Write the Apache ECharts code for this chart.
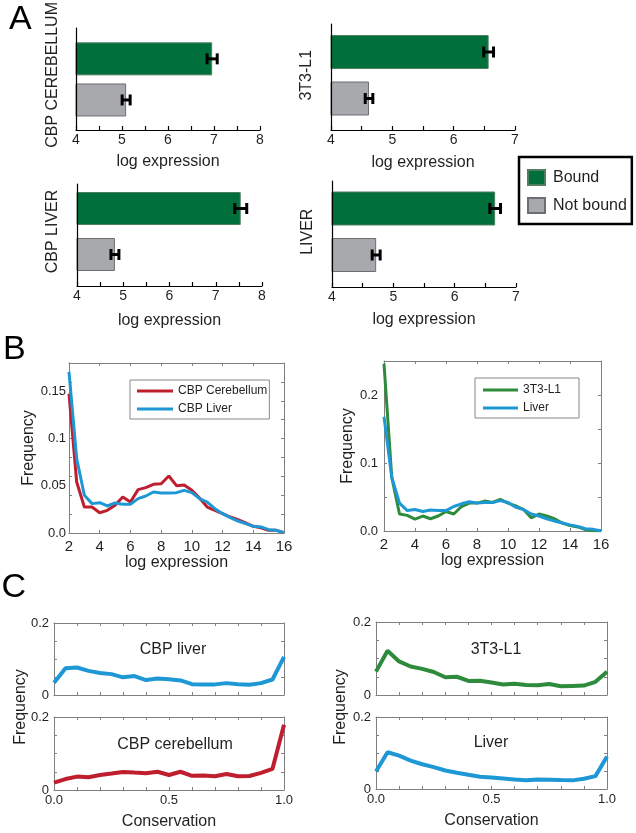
<!DOCTYPE html>
<html>
<head>
<meta charset="utf-8">
<script src="https://cdn.jsdelivr.net/npm/echarts@6/dist/echarts.min.js"></script>
<style>html,body{margin:0;padding:0;background:#fff;}#c{width:636px;height:833px;}</style>
</head>
<body>
<div id="c"></div>
<script>
// ---------- DATA ----------
const catsA = ['Bound', 'Not bound'];
const xTicksA8 = [4, 5, 6, 7, 8];
const xTicksA7 = [4, 5, 6, 7];
const valsCerebellum = [6.96, 5.09];
const errCerebellum = [0.11, 0.087];
const vals3T3 = [6.57, 4.62];
const err3T3 = [0.08, 0.062];
const valsCbpLiver = [7.54, 4.82];
const errCbpLiver = [0.13, 0.086];
const valsLiver = [6.66, 4.72];
const errLiver = [0.087, 0.065];

const xB = [2, 2.5, 3, 3.5, 4, 4.5, 5, 5.5, 6, 6.5, 7, 7.5, 8, 8.5, 9, 9.5, 10, 10.5, 11, 11.5, 12, 12.5, 13, 13.5, 14, 14.5, 15, 15.5, 16];
const bCbpCereb = [0.1475, 0.054, 0.0275, 0.0275, 0.0215, 0.024, 0.0293, 0.0381, 0.0328, 0.0459, 0.048, 0.0515, 0.0522, 0.0604, 0.0501, 0.0508, 0.0452, 0.0371, 0.0275, 0.024, 0.0205, 0.0169, 0.0141, 0.0106, 0.0071, 0.0056, 0.0028, 0.0028, 0.0004];
const bCbpLiver = [0.1705, 0.0787, 0.0399, 0.0311, 0.0321, 0.0286, 0.0318, 0.0304, 0.0304, 0.0364, 0.0392, 0.0434, 0.0424, 0.0424, 0.0427, 0.0452, 0.0427, 0.0364, 0.0328, 0.0258, 0.0205, 0.0162, 0.0127, 0.0099, 0.0071, 0.0064, 0.0035, 0.0028, 0.0004];
const b3T3 = [0.246, 0.079, 0.025, 0.023, 0.0175, 0.022, 0.018, 0.022, 0.0286, 0.025, 0.036, 0.041, 0.041, 0.044, 0.042, 0.0466, 0.041, 0.037, 0.0316, 0.0194, 0.025, 0.022, 0.018, 0.0117, 0.008, 0.006, 0.002, 0.0005, 0.0005];
const bLiver = [0.168, 0.079, 0.041, 0.030, 0.0316, 0.0286, 0.031, 0.030, 0.030, 0.036, 0.040, 0.043, 0.041, 0.042, 0.042, 0.0447, 0.042, 0.035, 0.0316, 0.025, 0.022, 0.018, 0.0146, 0.0117, 0.009, 0.0068, 0.0034, 0.0024, 0.0005];
const xTicksB = [2, 4, 6, 8, 10, 12, 14, 16];
const yTickValsBL = [0, 0.05, 0.1, 0.15];
const yTickTextBL = ['0.0', '0.05', '0.1', '0.15'];
const yTickValsBR = [0, 0.1, 0.2];
const yTickTextBR = ['0.0', '0.1', '0.2'];

const xC = [0, 0.05, 0.1, 0.15, 0.2, 0.25, 0.3, 0.35, 0.4, 0.45, 0.5, 0.55, 0.6, 0.65, 0.7, 0.75, 0.8, 0.85, 0.9, 0.95, 1.0];
const consCbpLiver = [0.034, 0.074, 0.0765, 0.067, 0.061, 0.058, 0.049, 0.0525, 0.0415, 0.046, 0.044, 0.0405, 0.030, 0.0295, 0.0295, 0.033, 0.030, 0.0286, 0.033, 0.043, 0.106];
const consCbpCereb = [0.020, 0.030, 0.0367, 0.035, 0.041, 0.045, 0.0495, 0.0477, 0.046, 0.050, 0.041, 0.050, 0.039, 0.040, 0.0376, 0.044, 0.0376, 0.0385, 0.047, 0.058, 0.179];
const cons3T3 = [0.064, 0.121, 0.092, 0.078, 0.0716, 0.063, 0.0486, 0.050, 0.0385, 0.039, 0.034, 0.029, 0.031, 0.0275, 0.0266, 0.030, 0.0239, 0.0248, 0.0257, 0.036, 0.064];
const consLiver = [0.0486, 0.102, 0.0927, 0.079, 0.0688, 0.0606, 0.0514, 0.045, 0.0394, 0.034, 0.032, 0.0294, 0.0266, 0.024, 0.0266, 0.0257, 0.0248, 0.024, 0.0284, 0.0358, 0.090];
const xTickValsC = [0, 0.5, 1];
const xTickTextC = ['0.0', '0.5', '1.0'];
const yTickValsC = [0, 0.2];
const yTickTextC = ['0', '0.2'];

// ---------- STYLE ----------
const FONT = "'Liberation Sans', Arial, sans-serif";
const TXT = '#231f20';
const GREEN_BAR = '#006f3c', GREEN_BAR_B = '#4f7e60';
const GRAY_BAR = '#a7a9ac', GRAY_BAR_B = '#6d6e71';
const RED = '#be1e2d', BLUE = '#1d98d5', GREEN = '#2e8b3c';
const BOX = '#808080';

const grids = [], xAxes = [], yAxes = [], series = [];
const addGrid = g => (grids.push(Object.assign({containLabel: false}, g)), grids.length - 1);
const addX = a => (xAxes.push(a), xAxes.length - 1);
const addY = a => (yAxes.push(a), yAxes.length - 1);
const lookup = (vals, texts) => v => { const i = vals.findIndex(t => Math.abs(t - v) < 1e-9); return i >= 0 ? texts[i] : ''; };

// ---------- PANEL A ----------
function panelA(f, b, xmax, xticks, yname, vals, errs) {
  const gf = addGrid({left: f.left, top: f.top, width: f.width, height: f.height});
  const gb = addGrid({left: f.left, top: b.top, width: f.width, height: b.height});
  addX({gridIndex: gf, type: 'value', min: 4, max: xmax, interval: 0.5, z: 5,
    axisLine: {onZero: false, lineStyle: {color: '#000', width: 1.2}},
    axisTick: {inside: true, length: 4, lineStyle: {color: '#000', width: 1.2}},
    splitLine: {show: false},
    axisLabel: {fontSize: 14, color: TXT, margin: 3, formatter: v => xticks.includes(v) ? String(v) : ''},
    name: 'log expression', nameLocation: 'middle', nameGap: f.nameGap,
    nameTextStyle: {fontSize: 16, color: TXT}});
  addY({gridIndex: gf, type: 'value', min: 0, max: 1, z: 5,
    axisLine: {show: true, onZero: false, lineStyle: {color: '#000', width: 1.2}},
    axisTick: {show: false}, axisLabel: {show: false}, splitLine: {show: false}});
  const xb = addX({gridIndex: gb, type: 'value', min: 4, max: xmax, show: false, splitLine: {show: false}});
  const yb = addY({gridIndex: gb, type: 'category', inverse: true, data: catsA,
    axisLine: {show: false, onZero: false}, axisTick: {show: false}, axisLabel: {show: false},
    name: yname, nameLocation: 'middle', nameRotate: 90, nameGap: f.yGap,
    nameTextStyle: {fontSize: 16, color: TXT, padding: f.yPad || 0}});
  series.push({type: 'bar', name: 'Bound', xAxisIndex: xb, yAxisIndex: yb, data: [vals[0], '-'],
    barWidth: b.bw, barGap: '-100%', itemStyle: {color: GREEN_BAR, borderColor: GREEN_BAR_B, borderWidth: 1}, animation: false});
  series.push({type: 'bar', name: 'Not bound', xAxisIndex: xb, yAxisIndex: yb, data: ['-', vals[1]],
    barWidth: b.bw, barGap: '-100%', itemStyle: {color: GRAY_BAR, borderColor: GRAY_BAR_B, borderWidth: 1}, animation: false});
  series.push({type: 'custom', name: 'err', xAxisIndex: xb, yAxisIndex: yb, z: 4,
    data: vals.map((v, i) => [v, i, errs[i]]), encode: {x: 0, y: 1},
    renderItem: (params, api) => {
      const v = api.value(0), c = api.value(1), e = api.value(2);
      const lo = api.coord([v - e, c]), hi = api.coord([v + e, c]);
      const h = 5.5, st = {stroke: '#000', lineWidth: 3};
      return {type: 'group', children: [
        {type: 'line', shape: {x1: lo[0], y1: lo[1], x2: hi[0], y2: hi[1]}, style: st},
        {type: 'line', shape: {x1: lo[0], y1: lo[1] - h, x2: lo[0], y2: lo[1] + h}, style: st},
        {type: 'line', shape: {x1: hi[0], y1: hi[1] - h, x2: hi[0], y2: hi[1] + h}, style: st}
      ]};
    }, animation: false});
}
panelA({left: 76, top: 28, width: 184, height: 102, nameGap: 24, yGap: 15, yPad: [0, 0, 0, 9]}, {top: 28.5, height: 92, bw: 33}, 8, xTicksA8, 'CBP CEREBELLUM', valsCerebellum, errCerebellum);
panelA({left: 331, top: 24, width: 184, height: 106, nameGap: 25, yGap: 16}, {top: 28.75, height: 93, bw: 34}, 7, xTicksA7, '3T3-L1', vals3T3, err3T3);
panelA({left: 77, top: 184, width: 185, height: 102, nameGap: 27, yGap: 16}, {top: 185.5, height: 92, bw: 33}, 8, xTicksA8, 'CBP LIVER', valsCbpLiver, errCbpLiver);
panelA({left: 332, top: 181, width: 184, height: 106, nameGap: 25, yGap: 16}, {top: 185.25, height: 93, bw: 34}, 7, xTicksA7, 'LIVER', valsLiver, errLiver);

// ---------- PANEL B ----------
function boxAxisStyle(len) {
  return {axisLine: {show: true, onZero: false, lineStyle: {color: BOX, width: 1}},
    axisTick: {show: true, inside: true, length: len, lineStyle: {color: BOX}},
    splitLine: {show: false}};
}
function panelB(g, o) {
  const gi = addGrid(g);
  const xb = addX(Object.assign({gridIndex: gi, type: 'value', min: 2, max: 16, interval: 2, position: 'bottom',
    axisLabel: {fontSize: 15, color: TXT, margin: 6, formatter: v => xTicksB.includes(v) ? String(v) : ''},
    name: 'log expression', nameLocation: 'middle', nameGap: 22, nameTextStyle: {fontSize: 16, color: TXT}}, boxAxisStyle(3)));
  addX(Object.assign({gridIndex: gi, type: 'value', min: 2, max: 16, interval: 2, position: 'top', axisLabel: {show: false}}, boxAxisStyle(3)));
  const yl = addY(Object.assign({gridIndex: gi, type: 'value', min: 0, max: o.ymax, interval: o.labelInt, position: 'left',
    axisLabel: {fontSize: 13, color: TXT, margin: o.labelMargin, formatter: lookup(o.tv, o.tt)},
    name: 'Frequency', nameLocation: 'middle', nameGap: o.nameGap, nameTextStyle: {fontSize: 16, color: TXT}}, boxAxisStyle(3),
    {axisTick: {show: o.ownTicks, inside: true, length: 3, lineStyle: {color: BOX}}}));
  if (!o.ownTicks) {
    addY(Object.assign({gridIndex: gi, type: 'value', min: 0, max: o.ymax, interval: o.tickInt, position: 'left', axisLabel: {show: false}}, boxAxisStyle(3)));
  }
  addY(Object.assign({gridIndex: gi, type: 'value', min: 0, max: o.ymax, interval: o.tickInt, position: 'right', axisLabel: {show: false}}, boxAxisStyle(3)));
  o.lines.forEach(l => series.push({type: 'line', name: l.name, xAxisIndex: xb, yAxisIndex: yl,
    data: xB.map((x, i) => [x, l.data[i]]), symbol: 'none', showSymbol: false,
    lineStyle: {color: l.color, width: 3}, itemStyle: {color: l.color}, animation: false}));
}
panelB({left: 69, top: 363, width: 215, height: 170}, {ymax: 0.18, labelInt: 0.05, tickInt: 0.02, ownTicks: false,
  tv: yTickValsBL, tt: yTickTextBL, labelMargin: 3, nameGap: 30,
  lines: [{name: 'CBP Cerebellum', data: bCbpCereb, color: RED}, {name: 'CBP Liver', data: bCbpLiver, color: BLUE}]});
panelB({left: 384, top: 361, width: 217, height: 170}, {ymax: 0.25, labelInt: 0.05, tickInt: 0.05, ownTicks: true,
  tv: yTickValsBR, tt: yTickTextBR, labelMargin: 6, nameGap: 26,
  lines: [{name: '3T3-L1', data: b3T3, color: GREEN}, {name: 'Liver', data: bLiver, color: BLUE}]});

// ---------- PANEL C ----------
function panelC(g, data, color, name, lower) {
  const gi = addGrid(g);
  const xb = addX(Object.assign({gridIndex: gi, type: 'value', min: 0, max: 1, interval: 0.1, position: 'bottom',
    axisLabel: {show: lower, fontSize: 13, color: TXT, margin: 4, formatter: lookup(xTickValsC, xTickTextC)},
    name: lower ? 'Conservation' : '', nameLocation: 'middle', nameGap: 24, nameTextStyle: {fontSize: 16, color: TXT}}, boxAxisStyle(3)));
  addX(Object.assign({gridIndex: gi, type: 'value', min: 0, max: 1, interval: 0.1, position: 'top', axisLabel: {show: false}}, boxAxisStyle(3)));
  const yl = addY(Object.assign({gridIndex: gi, type: 'value', min: 0, max: 0.2, interval: 0.05, position: 'left',
    axisLabel: {fontSize: 13, color: TXT, margin: 5, formatter: lookup(yTickValsC, yTickTextC)}}, boxAxisStyle(3)));
  addY(Object.assign({gridIndex: gi, type: 'value', min: 0, max: 0.2, interval: 0.05, position: 'right', axisLabel: {show: false}}, boxAxisStyle(3)));
  series.push({type: 'line', name: name, xAxisIndex: xb, yAxisIndex: yl, data: xC.map((x, i) => [x, data[i]]),
    symbol: 'none', showSymbol: false, lineStyle: {color: color, width: 4}, itemStyle: {color: color}, animation: false});
}
panelC({left: 54, top: 623, width: 230, height: 72}, consCbpLiver, BLUE, 'C CBP liver', false);
panelC({left: 54, top: 717, width: 230, height: 73}, consCbpCereb, RED, 'C CBP cerebellum', true);
panelC({left: 376, top: 622, width: 231, height: 73}, cons3T3, GREEN, 'C 3T3-L1', false);
panelC({left: 376, top: 717, width: 231, height: 72}, consLiver, BLUE, 'C Liver', true);

// ---------- TEXT ----------
const txt = (x, y, s, size, extra) => Object.assign({type: 'text', x: x, y: y, silent: true,
  style: {text: s, fontSize: size, fontFamily: FONT, fill: TXT, textAlign: 'center', textVerticalAlign: 'middle'}}, extra || {});
const graphics = [
  {type: 'text', x: 9, y: 20, style: {text: 'A', fontSize: 34, fontFamily: FONT, fill: '#000', textAlign: 'left', textVerticalAlign: 'middle'}},
  {type: 'text', x: 3, y: 350, style: {text: 'B', fontSize: 34, fontFamily: FONT, fill: '#000', textAlign: 'left', textVerticalAlign: 'middle'}},
  {type: 'text', x: 1.5, y: 588, style: {text: 'C', fontSize: 34, fontFamily: FONT, fill: '#000', textAlign: 'left', textVerticalAlign: 'middle'}},
  txt(173, 650, 'CBP liver', 16),
  txt(175, 745, 'CBP cerebellum', 16),
  txt(496, 650, '3T3-L1', 16),
  txt(491, 743, 'Liver', 16),
  txt(20.5, 707, 'Frequency', 16, {rotation: Math.PI / 2}),
  txt(341, 707, 'Frequency', 16, {rotation: Math.PI / 2})
];

const option = {
  backgroundColor: '#fff',
  animation: false,
  textStyle: {fontFamily: FONT},
  grid: grids, xAxis: xAxes, yAxis: yAxes, series: series,
  legend: [
    {data: ['Bound', 'Not bound'], left: 519, top: 157, orient: 'vertical', icon: 'rect',
      borderColor: '#000', borderWidth: 2.5, padding: [12, 5, 10, 8], itemWidth: 17, itemHeight: 15, itemGap: 11,
      textStyle: {fontSize: 16, color: TXT, padding: [0, 0, 0, 3]}, selectedMode: false},
    {data: ['CBP Cerebellum', 'CBP Liver'], left: 130, top: 380, orient: 'vertical', backgroundColor: '#fff', icon: 'rect',
      borderColor: '#888', borderWidth: 1, padding: [4, 2, 3, 7], itemWidth: 36, itemHeight: 3, itemGap: 4,
      textStyle: {fontSize: 12, color: TXT, lineHeight: 14}, selectedMode: false},
    {data: ['3T3-L1', 'Liver'], left: 475, top: 378, orient: 'vertical', backgroundColor: '#fff', icon: 'rect',
      borderColor: '#888', borderWidth: 1, padding: [5, 18, 3, 8], itemWidth: 35, itemHeight: 3, itemGap: 4,
      textStyle: {fontSize: 12, color: TXT, lineHeight: 14}, selectedMode: false}
  ],
  graphic: graphics
};
const chart = echarts.init(document.getElementById('c'), null, {renderer: 'canvas'});
chart.setOption(option);
</script>
</body>
</html>
